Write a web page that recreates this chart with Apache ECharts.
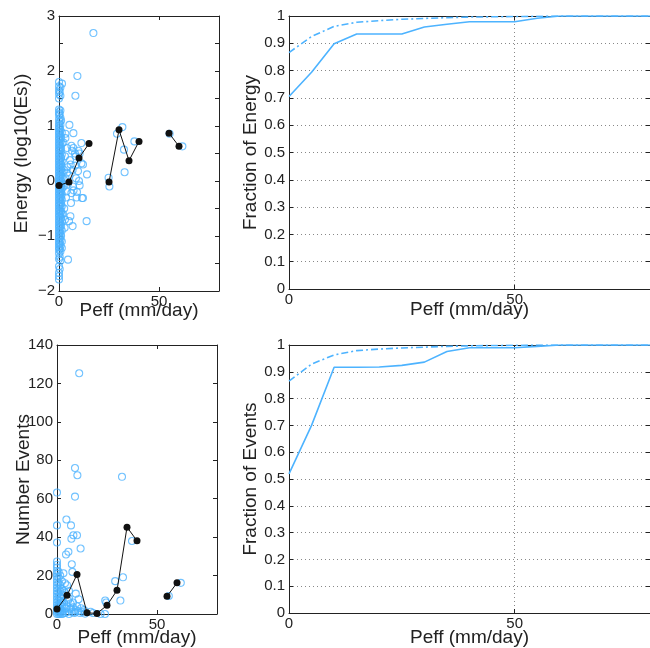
<!DOCTYPE html>
<html><head><meta charset="utf-8">
<script src="https://cdn.jsdelivr.net/npm/echarts@6/dist/echarts.min.js"></script>
<style>html,body{margin:0;padding:0;background:#fff}#c{width:650px;height:648px}</style>
</head><body><div id="c"></div>
<script>
// ---------- DATA ----------
const binX = [0, 5, 10, 15, 20, 25, 30, 35, 40, 45, 50, 55, 60];
const energyMean = [-0.08, -0.02, 0.42, 0.68, null, -0.02, 0.93, 0.37, 0.72, null, null, 0.87, 0.63];
const eventsMean = [2.6, 9.7, 20.5, 0.6, 0.3, 4.5, 12.3, 45.2, 38.1, null, null, 9.2, 16.2];

const energyPoints = [
  [0,1.8],[0,1.72],[0,1.65],[0,1.58],[0,1.5],[0,1.3],[0,1.25],[0,1.2],[0,1.12],[0,1.05],[0,1.0],[0,0.95],[0,0.9],[0,0.85],[0,0.8],[0,0.75],[0,0.7],[0,0.65],[0,0.6],[0,0.55],[0,0.5],[0,0.45],[0,0.4],[0,0.35],[0,0.3],[0,0.25],[0,0.2],[0,0.15],[0,0.1],[0,0.05],[0,0],[0,-0.05],[0,-0.1],[0,-0.15],[0,-0.2],[0,-0.25],[0,-0.3],[0,-0.35],[0,-0.4],[0,-0.45],[0,-0.5],[0,-0.55],[0,-0.6],[0,-0.65],[0,-0.7],[0,-0.75],[0,-0.8],[0,-0.85],[0,-0.9],[0,-0.95],[0,-1.0],[0,-1.05],[0,-1.1],[0,-1.15],[0,-1.2],[0,-1.25],[0,-1.32],[0,-1.42],[0,-1.55],[0,-1.67],[0,-1.73],[0,-1.79],
  [0.35,1.62],[0.35,1.22],[0.35,1.08],[0.35,0.97],[0.35,0.87],[0.35,0.77],[0.35,0.67],[0.35,0.57],[0.35,0.47],[0.35,0.37],[0.35,0.27],[0.35,0.17],[0.35,0.07],[0.35,-0.03],[0.35,-0.13],[0.35,-0.23],[0.35,-0.33],[0.35,-0.43],[0.35,-0.53],[0.35,-0.63],[0.35,-0.73],[0.35,-0.83],[0.35,-0.93],[0.35,-1.03],[0.35,-1.13],[0.35,-1.23],[0.35,-1.38],[0.35,-1.6],
  [0.7,1.7],[0.7,1.55],[0.7,1.28],[0.7,1.15],[0.7,1.02],[0.7,0.92],[0.7,0.82],[0.7,0.72],[0.7,0.62],[0.7,0.52],[0.7,0.42],[0.7,0.32],[0.7,0.22],[0.7,0.12],[0.7,0.02],[0.7,-0.08],[0.7,-0.18],[0.7,-0.28],[0.7,-0.38],[0.7,-0.48],[0.7,-0.58],[0.7,-0.68],[0.7,-0.78],[0.7,-0.88],[0.7,-0.98],[0.7,-1.08],[0.7,-1.18],[0.7,-1.28],[0.7,-1.45],
  [1.05,1.1],[1.05,0.78],[1.05,0.58],[1.05,0.42],[1.05,0.3],[1.05,0.2],[1.05,0.1],[1.05,0.0],[1.05,-0.1],[1.05,-0.2],[1.05,-0.3],[1.05,-0.42],[1.05,-0.55],[1.05,-0.68],[1.05,-0.82],[1.05,-1.0],
  [1.4,0.88],[1.4,0.68],[1.4,0.48],[1.4,0.36],[1.4,0.26],[1.4,0.16],[1.4,0.06],[1.4,-0.04],[1.4,-0.14],[1.4,-0.24],[1.4,-0.34],[1.4,-0.46],[1.4,-0.6],[1.4,-0.74],[1.4,-0.9],[1.4,-1.1],[1.4,-1.22],
  [1.5,1.77],[2.2,0.7],[2.5,0.2],[2.3,-0.1],[2.6,-0.5],[2.8,-0.85],[3,0.45],[3.2,0.86],[3.2,0.78],[3.3,0.05],[3.5,-0.3],[3.7,-0.19],[4,0.6],[4.2,0.25],[4.5,-1.43],[4.5,-0.05],[5.2,1.02],[5,-0.73],[5.2,0.1],[5.7,-0.64],[5.5,0.38],[5.8,0.3],[6.2,0.64],[6.2,-0.22],[6.8,-0.82],[6.5,0.55],[6.8,0.2],[7,-0.1],[7.2,0.87],[7.2,0.6],[7.3,-0.17],[8.2,0.28],[8.2,1.55],[8,0.5],[8.3,0.45],[8.5,0.05],[8.8,-0.3],[9.2,1.91],[9.5,0.18],[9.7,0.55],[10,0],[10.3,0.5],[10.3,-0.08],[11.2,0.69],[11.2,0.32],[11.5,-0.31],[12,-0.31],[12,0.3],[14,0.12],[13.8,-0.73],[17.2,2.69],[2,-0.6],[3,-0.7],[4,0.15],[6,-0.4],[9,-0.2],
  [24.8,0.06],[25.2,-0.1],[29,0.86],[31.7,0.98],[32.5,0.57],[32.8,0.16],[37.7,0.72],[55.3,0.86],[61.7,0.63]
];

const eventsPoints = [
  [0,63.2],[0,46.1],[0,37.2],[0,27.3],[0,25.6],[0,24.2],[0,22.5],[0,21],[0,19.5],[0,18],[0,16.5],[0,15],[0,13.5],[0,12],[0,10.5],[0,9],[0,7.5],[0,6],[0,4.5],[0,3],[0,2],[0,1],[0,0],
  [0.8,22],[0.8,19],[0.8,16],[0.8,13],[0.8,11],[0.8,9],[0.8,7],[0.8,5],[0.8,4],[0.8,3],[0.8,2],[0.8,1],[0.8,0],
  [1.6,20],[1.6,15],[1.6,12],[1.6,9],[1.6,7],[1.6,5],[1.6,3],[1.6,2],[1.6,1],[1.6,0],
  [2.5,17],[2.5,13],[2.5,10],[2.5,8],[2.5,6],[2.5,4],[2.5,2],[2.5,1],[2.5,0],
  [3.2,21.2],[4.5,31],[4.7,49.2],[5.7,32.4],[7,46.1],[7.2,39.2],[8.2,41],[10,41],[11.8,34.1],[7.4,25.9],[7.7,21.9],[9,76],[10.2,72.2],[9,61.1],[11.1,125.3],[9.4,10.6],[10.8,7.7],
  [4,16],[3.5,12],[5,15],[6,12],[4,11],[3.5,6],[4.2,3],[5,1],[5.5,7],[6.3,2.5],[6.8,5.5],[7.5,1],[8,3.5],[8.7,0.5],[9.3,2],[10.5,1.5],[11.5,0.5],[12.5,1],[13.5,2],[4,0.5],[6,0],[3,0.2],[6,8],[7,3],[8,6],[5,4],[9,1],[10,4],[12,3],[14,0.2],
  [16.8,1.2],[18,0.5],[21.8,0],[24,0],[24.1,7],[24.6,6],[29.1,17.1],[31.7,7],[33,19.1],[32.5,71.4],[37.5,38],[55.9,9.4],[61.9,16.2]
];

const cdfX = [0, 5, 10, 15, 20, 25, 30, 35, 40, 45, 50, 55, 60, 65, 70, 75, 80];
const energyFracAll = [0.705, 0.794, 0.898, 0.934, 0.934, 0.934, 0.960, 0.970, 0.979, 0.979, 0.979, 0.992, 1, 1, 1, 1, 1];
const energyFracRef = [0.866, 0.925, 0.962, 0.977, 0.983, 0.988, 0.991, 0.994, 0.996, 0.997, 0.998, 0.999, 1, 1, 1, 1, 1];
const eventsFracAll = [0.519, 0.70, 0.917, 0.917, 0.918, 0.924, 0.936, 0.976, 0.99, 0.99, 0.99, 0.995, 1, 1, 1, 1, 1];
const eventsFracRef = [0.865, 0.929, 0.963, 0.979, 0.985, 0.989, 0.992, 0.995, 0.997, 0.998, 0.999, 1, 1, 1, 1, 1, 1];

// ---------- STYLE ----------
const BLUE = '#4db3ff';
const INK = '#222';
const FONT = '"Liberation Sans", Arial, Helvetica, sans-serif';

const grids = [
  {left: 59, top: 16, width: 160, height: 275},
  {left: 289, top: 16, width: 367, height: 273},
  {left: 57, top: 345, width: 160, height: 273},
  {left: 289, top: 345, width: 367, height: 272}
];

function tickStyle(){ return {show: true, inside: true, length: 4, lineStyle: {color: INK, width: 1}}; }
function lineStyleAxis(){ return {show: true, onZero: false, lineStyle: {color: INK, width: 1}}; }

const xAxes = [], yAxes = [];
function addX(gi, withGrid, gap){
  xAxes.push({
    type: 'value', gridIndex: gi, min: 0, max: 80, interval: 50, position: 'bottom',
    axisLine: lineStyleAxis(), axisTick: tickStyle(),
    axisLabel: {color: INK, fontSize: 15, fontFamily: FONT, margin: 3, showMaxLabel: false},
    splitLine: {show: withGrid, lineStyle: {type: [1, 3], color: '#888', width: 1}},
    name: 'Peff (mm/day)', nameLocation: 'middle', nameGap: gap, nameMoveOverlap: false,
    nameTextStyle: {color: INK, fontSize: 19, fontFamily: FONT}
  });
  xAxes.push({
    type: 'value', gridIndex: gi, min: 0, max: 80, interval: 50, position: 'top',
    axisLine: lineStyleAxis(), axisTick: tickStyle(), axisLabel: {show: false}, splitLine: {show: false}
  });
}
function addY(gi, min, max, interval, name, fmt, gap, withGrid){
  yAxes.push({
    type: 'value', gridIndex: gi, min: min, max: max, interval: interval, position: 'left',
    axisLine: lineStyleAxis(), axisTick: tickStyle(),
    axisLabel: {color: INK, fontSize: 15, fontFamily: FONT, margin: 4, formatter: fmt},
    splitLine: {show: withGrid, lineStyle: {type: [1, 3], color: '#888', width: 1}},
    name: name, nameLocation: 'middle', nameGap: gap, nameRotate: 90, nameMoveOverlap: false,
    nameTextStyle: {color: INK, fontSize: 19, fontFamily: FONT}
  });
  yAxes.push({
    type: 'value', gridIndex: gi, min: min, max: max, interval: interval, position: 'right',
    axisLine: lineStyleAxis(), axisTick: tickStyle(), axisLabel: {show: false}, splitLine: {show: false}
  });
}
const energyFmt = v => (Math.abs(v - Math.round(v)) < 1e-9) ? (v < 0 ? '\u2212' + Math.abs(v) : String(v)) : '';
const fracFmt = v => (v === 0 || v === 1) ? String(v) : v.toFixed(1);

addX(0, false, 10); addY(0, -2, 3, 0.5, 'Energy (log10(Es))', energyFmt, 28, false);
addX(1, true, 11);  addY(1, 0, 1, 0.1, 'Fraction of Energy', fracFmt, 29, true);
addX(2, false, 14); addY(2, 0, 140, 20, 'Number Events', v => String(v), 24, false);
addX(3, true, 15);  addY(3, 0, 1, 0.1, 'Fraction of Events', fracFmt, 29, true);

function meanPairs(vals){ return binX.map((x, i) => [x, vals[i] === null ? '-' : vals[i]]); }
function cdfPairs(vals){ return cdfX.map((x, i) => [x, vals[i]]); }

const openCircle = {color: 'rgba(0,0,0,0)', borderColor: BLUE, borderWidth: 1.1};
const series = [
  {type: 'scatter', xAxisIndex: 0, yAxisIndex: 0, data: energyPoints, symbol: 'circle', symbolSize: 7, itemStyle: openCircle, silent: true},
  {type: 'line', xAxisIndex: 0, yAxisIndex: 0, data: meanPairs(energyMean), connectNulls: false, symbol: 'circle', symbolSize: 7, showSymbol: true,
   itemStyle: {color: '#111'}, lineStyle: {color: '#111', width: 1}, silent: true},
  {type: 'line', xAxisIndex: 2, yAxisIndex: 2, data: cdfPairs(energyFracAll), showSymbol: false, lineStyle: {color: BLUE, width: 1.6}, silent: true},
  {type: 'line', xAxisIndex: 2, yAxisIndex: 2, data: cdfPairs(energyFracRef), showSymbol: false, lineStyle: {color: BLUE, width: 1.6, type: [7, 3, 2, 3]}, silent: true},
  {type: 'scatter', xAxisIndex: 4, yAxisIndex: 4, data: eventsPoints, symbol: 'circle', symbolSize: 7, itemStyle: openCircle, silent: true},
  {type: 'line', xAxisIndex: 4, yAxisIndex: 4, data: meanPairs(eventsMean), connectNulls: false, symbol: 'circle', symbolSize: 7, showSymbol: true,
   itemStyle: {color: '#111'}, lineStyle: {color: '#111', width: 1}, silent: true},
  {type: 'line', xAxisIndex: 6, yAxisIndex: 6, data: cdfPairs(eventsFracAll), showSymbol: false, lineStyle: {color: BLUE, width: 1.6}, silent: true},
  {type: 'line', xAxisIndex: 6, yAxisIndex: 6, data: cdfPairs(eventsFracRef), showSymbol: false, lineStyle: {color: BLUE, width: 1.6, type: [7, 3, 2, 3]}, silent: true}
];

const chart = echarts.init(document.getElementById('c'), null, {renderer: 'canvas'});
chart.setOption({
  animation: false,
  backgroundColor: '#fff',
  grid: grids,
  xAxis: xAxes,
  yAxis: yAxes,
  series: series
});
</script>
</body></html>
